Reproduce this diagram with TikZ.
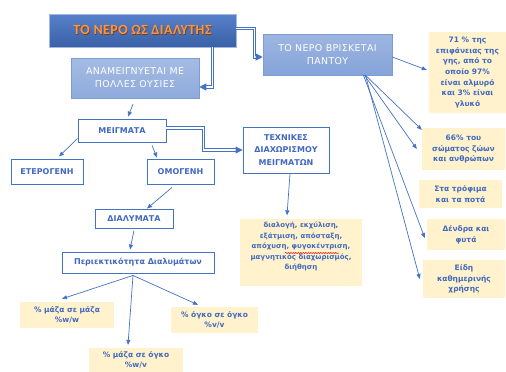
\documentclass[tikz,border=0pt]{standalone}
\usepackage{fontspec}
\usepackage{tikz}
\usetikzlibrary{arrows.meta,decorations.pathmorphing}
\setmainfont{DejaVu Sans}
\newfontfamily\titlefont{Carlito}[LetterSpace=3]
\newfontfamily\spacedfont{DejaVu Sans}[LetterSpace=4]
\definecolor{lineblue}{HTML}{4472C4}
\definecolor{textblue}{HTML}{4169C0}
\definecolor{paleyellow}{HTML}{FFF2CC}
\definecolor{titleorange}{HTML}{F79646}
\definecolor{titleshade}{HTML}{7A3B10}
\newcommand{\glowtext}[1]{\rlap{\textcolor{titleshade}{\hspace{0.7pt}\raisebox{-0.7pt}{#1}}}#1}

\begin{document}
\begin{tikzpicture}
  [x=1pt,y=-1pt,
   wbox/.style={draw=lineblue,line width=0.9pt,fill=white,text=textblue,
     font=\bfseries\fontsize{8}{12.5}\selectfont,align=center,inner sep=0pt},
   ybox/.style={fill=paleyellow,text=textblue,
     font=\bfseries\fontsize{7.5}{10.6}\selectfont,align=center,inner sep=0pt},
   bbox/.style={draw=lineblue!70,line width=0.6pt,top color=#1!80!white,bottom color=#1,
     text=white,font=\spacedfont\fontsize{9.4}{13}\selectfont,align=center,inner sep=0pt},
   arr/.style={draw=lineblue,line width=0.7pt,-{Triangle[length=5pt,width=4pt]}},
   dbl/.style={draw=lineblue,double=white,double distance=1.5pt,line width=1pt,
     -{Triangle[length=7pt,width=7pt]}}]
  \clip (0,0) rectangle (506,372);
  \fill[white] (0,0) rectangle (506,372);

  % top row
  \node[draw=lineblue!50,line width=0.6pt,top color=lineblue!90!white,bottom color=lineblue!85!black,
    text=titleorange,font=\titlefont\bfseries\fontsize{14}{16}\selectfont,
    minimum width=187pt,minimum height=33pt,inner sep=0pt] (title) at (142.5,30.5)
    {\glowtext{ΤΟ ΝΕΡΟ ΩΣ ΔΙΑΛΥΤΗΣ}};
  \node[bbox=lineblue!60!white,minimum width=128pt,minimum height=40pt] (mix) at (135,78)
    {ΑΝΑΜΕΙΓΝΥΕΤΑΙ ΜΕ\\ΠΟΛΛΕΣ ΟΥΣΙΕΣ};
  \node[bbox=lineblue!65!white,minimum width=129pt,minimum height=41pt] (everywhere) at (327.5,54.5)
    {ΤΟ ΝΕΡΟ ΒΡΙΣΚΕΤΑΙ\\ΠΑΝΤΟΥ};

  % where water is found
  \node[ybox,minimum width=77pt,minimum height=81pt] (surface) at (467.5,72.5)
    {71 \% της\\επιφάνειας της\\γης, από το\\οποίο 97\%\\είναι αλμυρό\\και 3\% είναι\\γλυκό};
  \node[ybox,minimum width=83pt,minimum height=42pt] (bodies) at (463.5,149)
    {66\% του\\σώματος ζώων\\και ανθρώπων};
  \node[ybox,minimum width=83pt,minimum height=28pt] (food) at (460.5,194)
    {Στα τρόφιμα\\και τα ποτά};
  \node[ybox,minimum width=78pt,minimum height=31pt] (plants) at (466,234.5)
    {Δένδρα και\\φυτά};
  \node[ybox,minimum width=82pt,minimum height=38pt] (goods) at (464,279)
    {Είδη\\καθημερινής\\χρήσης};

  % mixtures
  \node[wbox,minimum width=88pt,minimum height=23pt] (meigmata) at (122,130.5) {ΜΕΙΓΜΑΤΑ};
  \node[wbox,minimum width=72pt,minimum height=25pt] (hetero) at (47,171.5) {ΕΤΕΡΟΓΕΝΗ};
  \node[wbox,minimum width=67pt,minimum height=25pt] (homo) at (180.5,171.5) {ΟΜΟΓΕΝΗ};
  \node[wbox,minimum width=78pt,minimum height=19pt] (solutions) at (134,218.5) {ΔΙΑΛΥΜΑΤΑ};
  \node[wbox,minimum width=86pt,minimum height=46pt] (techniques) at (286,150)
    {ΤΕΧΝΙΚΕΣ\\ΔΙΑΧΩΡΙΣΜΟΥ\\ΜΕΙΓΜΑΤΩΝ};
  \node[ybox,font=\bfseries\fontsize{7}{10.5}\selectfont,minimum width=122pt,minimum height=67pt]
    (methods) at (301,252)
    {διαλογή, εκχύλιση,\\εξάτμιση, απόσταξη,\\απόχυση, φυγοκέντριση,\\μαγνητικός διαχωρισμός,\\διήθηση\\[-2pt]\strut};
  \node[wbox,minimum width=152pt,minimum height=21pt] (content) at (138,262.5)
    {Περιεκτικότητα Διαλυμάτων};
  % spell-check mark
  \draw[red,line width=0.5pt,decorate,decoration={snake,amplitude=0.6pt,segment length=2.5pt}]
    ([xshift=-16pt,yshift=-1pt]methods.center) -- ([xshift=38pt,yshift=-1pt]methods.center);

  % concentration
  \node[ybox,minimum width=94pt,minimum height=26pt] (ww) at (67,315) {\% μάζα σε μάζα\\\%w/w};
  \node[ybox,minimum width=94pt,minimum height=24pt] (wv) at (136,360) {\% μάζα σε όγκο\\\%w/v};
  \node[ybox,minimum width=87pt,minimum height=26pt] (vv) at (214.5,320) {\% όγκο σε όγκο\\\%v/v};

  % double connectors
  \draw[dbl] ([xshift=-24pt]title.south east) |- ([yshift=-9pt]mix.east);
  \draw[dbl] ([yshift=2pt]title.east) -- ++(18,0) |- ([yshift=-2.5pt]everywhere.west);
  \draw[dbl] ([yshift=2.5pt]meigmata.east) -- ++(37,0) |- (techniques.west);

  % single connectors
  \draw[arr] ([xshift=-2pt,yshift=-6pt]mix.south) -- ([xshift=6pt,yshift=2pt]meigmata.north);
  \draw[arr] ([yshift=4pt]meigmata.south west) -- ([xshift=12pt,yshift=2pt]hetero.north);
  \draw[arr] ([xshift=30pt,yshift=-3pt]meigmata.south) -- ([xshift=-23.5pt,yshift=1pt]homo.north);
  \draw[arr] ([xshift=-8.5pt,yshift=-3pt]homo.south) -- ([xshift=13pt]solutions.north);
  \draw[arr] ([yshift=-2pt]solutions.south) -- ([xshift=-8pt,yshift=2pt]content.north);
  \draw[arr] ([xshift=4pt]techniques.south) -- ([xshift=-14pt,yshift=3pt]methods.north);
  \draw[arr] ([xshift=-5pt,yshift=-2pt]content.south) -- ([xshift=-5pt,yshift=3pt]ww.north);
  \draw[arr] ([xshift=-5pt,yshift=-2pt]content.south) -- ([xshift=-8pt,yshift=3pt]wv.north);
  \draw[arr] ([xshift=-5pt,yshift=-2pt]content.south) -- ([xshift=-16.5pt,yshift=2pt]vv.north);
  \draw[arr] ([yshift=-2.5pt]everywhere.east) -- ([xshift=-2pt,yshift=2.5pt]surface.west);
  \draw[arr] ([xshift=38pt]everywhere.south) -- ([yshift=-2pt]bodies.north west);
  \draw[arr] ([xshift=37pt]everywhere.south) -- ([xshift=-5pt]bodies.west);
  \draw[arr] ([xshift=36pt]everywhere.south) -- ([xshift=-2pt,yshift=-3.5pt]plants.west);
  \draw[arr] ([xshift=38pt]everywhere.south) -- ([xshift=-3pt]goods.west);
\end{tikzpicture}
\end{document}
